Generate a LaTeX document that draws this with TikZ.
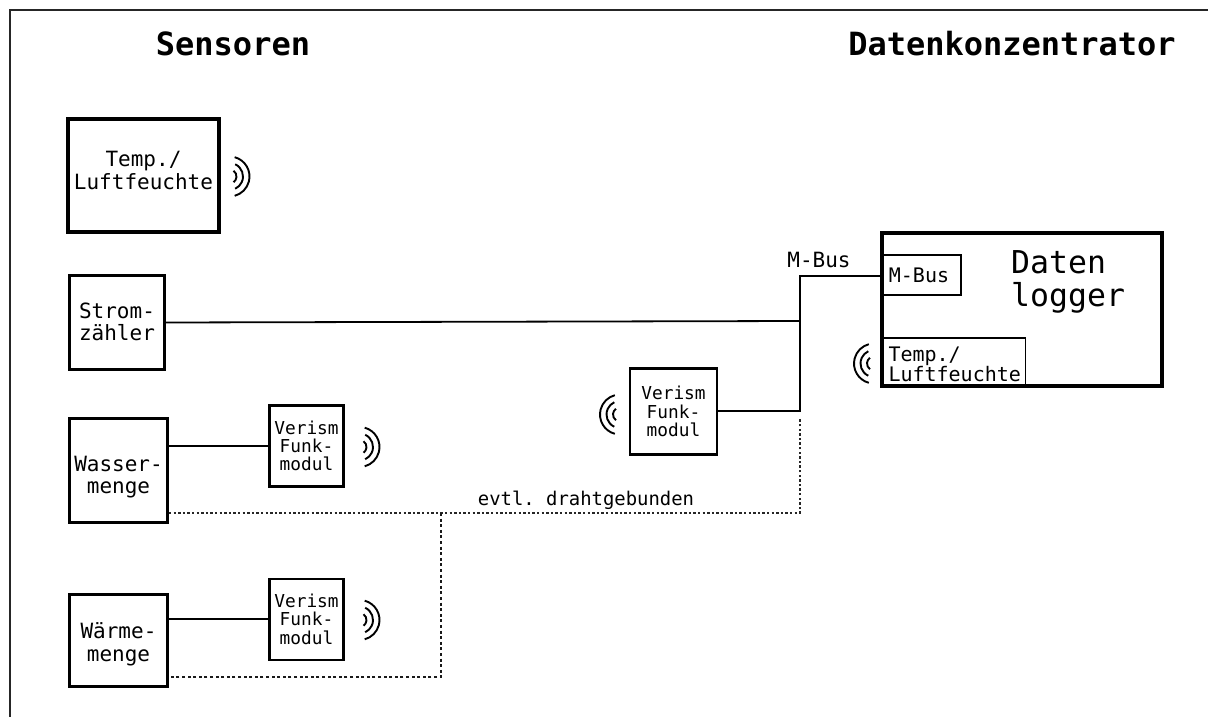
\documentclass[tikz,border=0pt]{standalone}
\usepackage{fontspec}
\setmonofont{DejaVu Sans Mono}
\newcommand{\fs}[2]{\fontsize{#1}{#2}\selectfont\ttfamily}
\tikzset{
  x=1pt,y=-1pt,
  frameline/.style={line width=2pt,draw=black!85},
  box/.style={draw,inner sep=0pt,align=center,anchor=center,text=black},
  big/.style={box,line width=4pt,font=\fs{21}{22.5}},
  mid/.style={box,line width=3pt,font=\fs{21}{22.5}},
  small/.style={box,line width=2.4pt,font=\fs{17.8}{18.2}},
  inner/.style={box,line width=1.5pt,font=\fs{20}{20}},
  title/.style={inner sep=0pt,font=\fs{32}{34}\bfseries},
  wire/.style={line width=1.8pt},
  dotwire/.style={line width=1.3pt,dash pattern=on 2.4pt off 2.2pt,draw=black!85},
  dotwirebold/.style={line width=1.7pt,dash pattern=on 3pt off 2.6pt,draw=black!90},
  wave/.style={line width=1.9pt},
  lab/.style={inner sep=0pt},
}
\begin{document}
\begin{tikzpicture}
\useasboundingbox (0,0) rectangle (1208,717);
\draw[frameline] (9.5,717) -- (9.5,10.5) -- (1208,10.5);
\node[title] (tsens) at (233,43.5) {Sensoren};
\node[title] (tkonz) at (1012,43.5) {Datenkonzentrator};

\node[big,minimum width=151pt,minimum height=113pt] (temp) at (143.5,175.5) {Temp./\\Luftfeuchte\rule[-10pt]{0pt}{0pt}};
\node[mid,minimum width=95pt,minimum height=94pt] (strom) at (117,322) {Strom-\\z\"ahler};
\node[mid,minimum width=98pt,minimum height=104pt] (wasser) at (118.5,470) {\rule{0pt}{30pt}Wasser-\\menge};
\node[mid,minimum width=98pt,minimum height=92.5pt] (waerme) at (118.5,640.25) {\rule{0pt}{24pt}W\"arme-\\menge};

\node[small,minimum width=74pt,minimum height=81pt] (v1) at (306.5,446) {Verism\\Funk-\\modul};
\node[small,minimum width=74pt,minimum height=81pt] (v2) at (306.5,619.2) {Verism\\Funk-\\modul};
\node[small,minimum width=87pt,minimum height=86pt] (v3) at (673.5,411.5) {Verism\\Funk-\\modul};

\node[big,minimum width=280pt,minimum height=153pt] (logger) at (1022,309.5) {};
\node[lab,font=\fs{31.5}{33},align=left,anchor=west] (ltext) at (1011,282) {Daten\\logger};
\node[inner,minimum width=79pt,minimum height=40pt] (mbus) at (921.5,275) {\hspace*{-5pt}M-Bus};
\node[inner,minimum width=143pt,minimum height=48pt,text width=131pt,inner xsep=6pt,align=left] (itemp) at (954,362) {\rule{0pt}{20pt}Temp./\\Luftfeuchte};

\node[lab,font=\fs{21}{22}] (lmbus) at (819,260) {M-Bus};
\node[lab,font=\fs{18.9}{20}] (ldraht) at (586,500) {evtl. drahtgebunden};

\coordinate (j1) at (800,276);
\coordinate (j2) at (800,321);
\coordinate (j3) at (800,411);
\coordinate (d1) at (800,513);
\coordinate (d0) at (800,418);
\coordinate (d2) at (441,513);
\coordinate (d3) at (441,677);

\draw[wire] (mbus.west |- j1) -- (j1) -- (j3) -- (v3.east |- j3);
\draw[wire] (strom.east |- 0,322.5) -- (j2);
\draw[wire] (wasser.east |- v1.west) -- (v1.west);
\draw[wire] (waerme.east |- v2.west) -- (v2.west);
\draw[dotwire] (wasser.east |- d1) -- (d2) -- (d1) -- (d0);
\draw[dotwirebold] (d2) -- (d3) -- (waerme.east |- d3);

% antennas
\foreach \cx/\cy in {229.5/176.5,359.5/447,359.5/620}{
  \draw[wave] ([shift={(-55:7)}]\cx,\cy) arc[start angle=-55,end angle=55,radius=7];
  \draw[wave] ([shift={(-65:13.5)}]\cx,\cy) arc[start angle=-65,end angle=65,radius=13.5];
  \draw[wave] ([shift={(-75:20)}]\cx,\cy) arc[start angle=-75,end angle=75,radius=20];
}
\foreach \cx/\cy in {620/414.5,874/363.5}{
  \draw[wave] ([shift={(125:7)}]\cx,\cy) arc[start angle=125,end angle=235,radius=7];
  \draw[wave] ([shift={(115:13.5)}]\cx,\cy) arc[start angle=115,end angle=245,radius=13.5];
  \draw[wave] ([shift={(105:20)}]\cx,\cy) arc[start angle=105,end angle=255,radius=20];
}
\end{tikzpicture}
\end{document}
